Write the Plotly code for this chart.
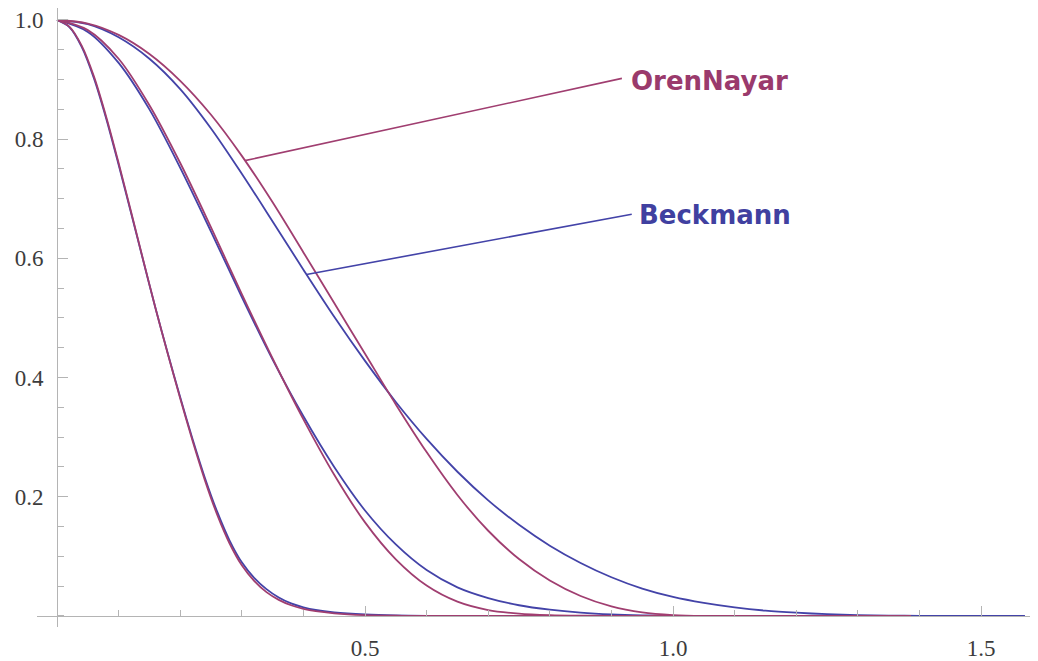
import plotly.graph_objects as go

# ---- data ----
# narrow pair
narrow_x = [0, 0.02, 0.04, 0.06, 0.08, 0.10, 0.12, 0.14, 0.16, 0.18, 0.20, 0.22, 0.24,
            0.26, 0.28, 0.30, 0.32, 0.34, 0.36, 0.38, 0.40, 0.42, 0.45, 0.50, 0.55, 0.60]
narrow_oren = [1.0, 0.989, 0.957, 0.905, 0.837, 0.76, 0.679, 0.597, 0.516, 0.439, 0.365, 0.294, 0.228,
               0.17, 0.122, 0.085, 0.059, 0.04, 0.027, 0.018, 0.012, 0.008, 0.0045, 0.0015, 0.0004, 0.0]
narrow_beck = [1.0, 0.988, 0.955, 0.902, 0.834, 0.757, 0.677, 0.596, 0.516, 0.44, 0.367, 0.297, 0.232,
               0.175, 0.127, 0.09, 0.064, 0.045, 0.031, 0.021, 0.0145, 0.01, 0.006, 0.0025, 0.0008, 0.0002]

# middle pair
mid_oren_x = [0, 0.05, 0.10, 0.15, 0.20, 0.25, 0.30, 0.35, 0.40, 0.45, 0.50, 0.55, 0.60,
              0.65, 0.70, 0.75, 0.80, 0.85, 0.90]
mid_oren = [1.0, 0.983, 0.935, 0.857, 0.76, 0.652, 0.54, 0.432, 0.33, 0.237, 0.157, 0.095, 0.051,
            0.024, 0.010, 0.004, 0.0015, 0.0005, 0.0]
mid_beck_x = [0, 0.05, 0.10, 0.15, 0.20, 0.25, 0.30, 0.35, 0.40, 0.45, 0.50, 0.55, 0.60,
              0.65, 0.70, 0.75, 0.80, 0.85, 0.90, 0.95, 1.00]
mid_beck = [1.0, 0.98, 0.928, 0.85, 0.752, 0.645, 0.535, 0.43, 0.335, 0.25, 0.177, 0.12, 0.077,
            0.048, 0.03, 0.018, 0.0105, 0.0055, 0.0025, 0.001, 0.0003]

# wide pair
wide_oren_x = [0, 0.05, 0.10, 0.15, 0.20, 0.25, 0.30, 0.35, 0.40, 0.45, 0.50, 0.55, 0.60,
               0.65, 0.70, 0.75, 0.80, 0.85, 0.90, 0.95, 1.00, 1.05]
wide_oren = [1.0, 0.994, 0.975, 0.943, 0.898, 0.841, 0.772, 0.694, 0.61, 0.525, 0.44, 0.355, 0.275,
             0.203, 0.143, 0.0955, 0.0595, 0.0335, 0.016, 0.006, 0.0015, 0.0]
wide_beck_x = [0, 0.05, 0.10, 0.15, 0.20, 0.25, 0.30, 0.35, 0.40, 0.45, 0.50, 0.55, 0.60,
               0.65, 0.70, 0.75, 0.80, 0.85, 0.90, 0.95, 1.00, 1.05, 1.10, 1.15, 1.20,
               1.25, 1.30, 1.35, 1.40, 1.45]
wide_beck = [1.0, 0.993, 0.971, 0.935, 0.884, 0.818, 0.742, 0.662, 0.581, 0.502, 0.428, 0.359, 0.297,
             0.242, 0.194, 0.153, 0.118, 0.089, 0.065, 0.046, 0.032, 0.022, 0.0145, 0.009, 0.0055,
             0.003, 0.0015, 0.0006, 0.0002, 0.0]

oren_end = 1.386          # OrenNayar curves are plotted up to here
beck_end = 1.5708         # Beckmann curves up to pi/2

x_tick_vals = [0.5, 1.0, 1.5]
x_tick_text = ["0.5", "1.0", "1.5"]
y_tick_vals = [0.2, 0.4, 0.6, 0.8, 1.0]
y_tick_text = ["0.2", "0.4", "0.6", "0.8", "1.0"]

OREN_COLOR = "#A03E70"
BECK_COLOR = "#4343A8"

fig = go.Figure()

beck_series = [(narrow_x, narrow_beck), (mid_beck_x, mid_beck), (wide_beck_x, wide_beck)]
oren_series = [(narrow_x, narrow_oren), (mid_oren_x, mid_oren), (wide_oren_x, wide_oren)]

for xs, ys in beck_series:
    fig.add_trace(go.Scatter(x=list(xs) + [beck_end], y=list(ys) + [0.0], mode="lines",
                             line=dict(color=BECK_COLOR, width=1.8, shape="spline", smoothing=0.9),
                             hoverinfo="skip", showlegend=False))
for xs, ys in oren_series:
    fig.add_trace(go.Scatter(x=list(xs) + [oren_end], y=list(ys) + [0.0], mode="lines",
                             line=dict(color=OREN_COLOR, width=1.8, shape="spline", smoothing=0.9),
                             hoverinfo="skip", showlegend=False))

XMIN, XMAX = -0.0325, 1.5925
YMIN, YMAX = -0.0185, 1.0201

axis_common = dict(
    showgrid=False, zeroline=False, showline=True, linecolor="#b4b4b4", linewidth=1,
    ticks="inside", ticklen=10, tickcolor="#b4b4b4", tickwidth=1,
    tickfont=dict(family="Liberation Serif, Times New Roman, serif", size=23, color="#3c3c3c"),
    tickmode="array", anchor="free", automargin=False,
)

# the page body has an 8px margin, so the figure is 8px smaller than the window
fig.update_layout(
    width=1030, height=653,
    margin=dict(l=29, r=0, t=0, b=34, autoexpand=False),
    paper_bgcolor="white", plot_bgcolor="white",
    xaxis=dict(axis_common, range=[XMIN, XMAX], tickvals=x_tick_vals, ticktext=x_tick_text,
               position=(0 - YMIN) / (YMAX - YMIN), ticklabelstandoff=11,
               minor=dict(dtick=0.1, tick0=0, ticks="inside", ticklen=6, tickcolor="#b4b4b4")),
    yaxis=dict(axis_common, range=[YMIN, YMAX], tickvals=y_tick_vals, ticktext=y_tick_text,
               position=(0 - XMIN) / (XMAX - XMIN), ticklabelstandoff=9,
               minor=dict(dtick=0.05, tick0=0, ticks="inside", ticklen=6, tickcolor="#b4b4b4")),
    shapes=[
        dict(type="line", xref="x", yref="y", x0=0.305, y0=0.764, x1=0.917, y1=0.902,
             line=dict(color=OREN_COLOR, width=1.6)),
        dict(type="line", xref="x", yref="y", x0=0.405, y0=0.573, x1=0.933, y1=0.674,
             line=dict(color=BECK_COLOR, width=1.6)),
    ],
    annotations=[
        dict(x=0.928, y=0.897, xref="x", yref="y", text="<b>OrenNayar</b>", showarrow=False,
             xanchor="left", yanchor="middle",
             font=dict(family="DejaVu Sans, Liberation Sans, sans-serif", size=26, color="#9A3A6C")),
        dict(x=0.941, y=0.672, xref="x", yref="y", text="<b>Beckmann</b>", showarrow=False,
             xanchor="left", yanchor="middle",
             font=dict(family="DejaVu Sans, Liberation Sans, sans-serif", size=26, color="#4040A0")),
    ],
)

fig.write_html("out.html", config={"displayModeBar": False})
